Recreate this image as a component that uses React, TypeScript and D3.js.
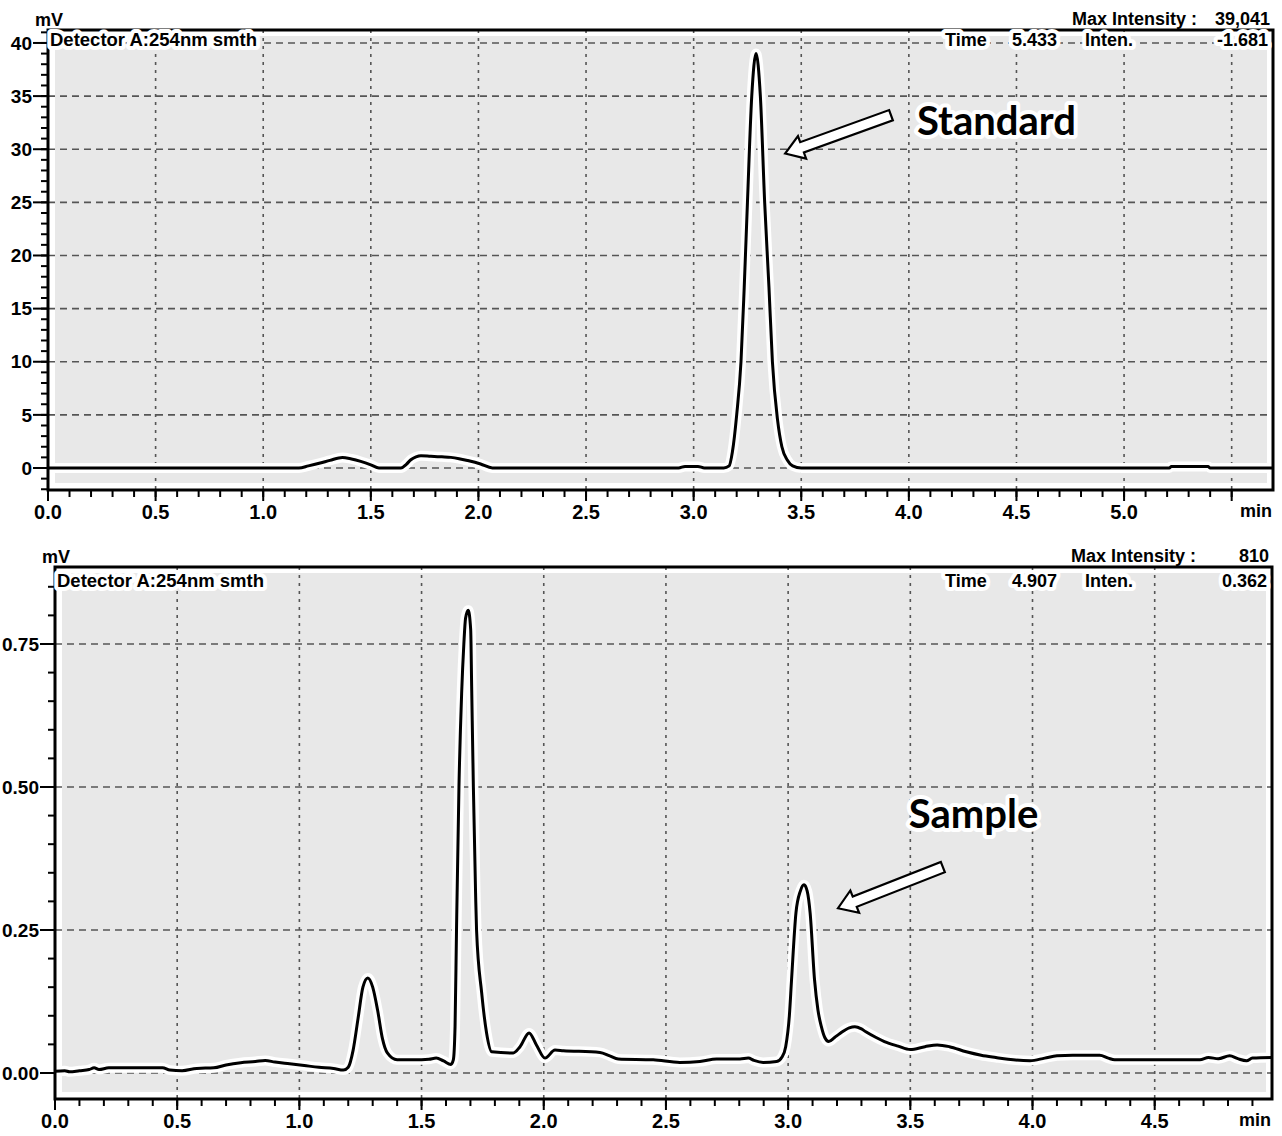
import React from 'react';
import * as d3 from 'd3';

// Standard chromatogram (mV vs min)
const standardTime = [
  0.0, 1.166, 1.21, 1.265, 1.31, 1.368, 1.41, 1.453, 1.5, 1.538, 1.64, 1.665, 1.686, 1.71, 1.733,
  1.779, 1.83, 1.872, 1.91, 1.95, 2.01, 2.065, 2.93, 2.96, 3.02, 3.05, 3.14, 3.165, 3.18, 3.2,
  3.22, 3.235, 3.25, 3.27, 3.29, 3.31, 3.33, 3.35, 3.366, 3.39, 3.41, 3.435, 3.46, 3.5, 5.21,
  5.22, 5.39, 5.4, 5.69,
];
const standardSignal = [
  0, 0, 0.2, 0.47, 0.72, 1.0, 0.85, 0.62, 0.3, 0, 0, 0.35, 0.78, 1.05, 1.16,
  1.1, 1.05, 1.0, 0.88, 0.7, 0.38, 0, 0, 0.15, 0.15, 0, 0, 0.2, 1.5, 5,
  10, 17, 25, 35, 39, 35, 25, 17, 10, 4.5, 2, 0.75, 0.2, 0, 0,
  0.15, 0.15, 0, 0,
];

// Sample chromatogram (mV vs min)
const sampleTime = [
  0.0, 0.04, 0.06, 0.1, 0.14, 0.16, 0.18, 0.22, 0.3, 0.44, 0.47, 0.52, 0.58, 0.65, 0.7,
  0.76, 0.82, 0.86, 0.9, 0.96, 1.02, 1.08, 1.14, 1.18, 1.2, 1.22, 1.24, 1.26, 1.28, 1.3,
  1.32, 1.34, 1.36, 1.4, 1.47, 1.53, 1.56, 1.59, 1.62, 1.63, 1.637, 1.643, 1.653, 1.664, 1.673,
  1.68, 1.691, 1.701, 1.705, 1.712, 1.721, 1.725, 1.746, 1.766, 1.787, 1.875, 1.903, 1.94, 1.97, 2.005,
  2.046, 2.08, 2.23, 2.27, 2.305, 2.448, 2.557, 2.639, 2.707, 2.803, 2.837, 2.86, 2.898, 2.953, 2.975,
  2.99, 3.005, 3.014, 3.032, 3.05, 3.065, 3.078, 3.09, 3.108, 3.122, 3.136, 3.15, 3.166, 3.19, 3.212,
  3.25, 3.273, 3.3, 3.318, 3.36, 3.394, 3.45, 3.5, 3.56, 3.61, 3.66, 3.729, 3.79, 3.85, 3.9,
  3.99, 4.05, 4.1, 4.165, 4.275, 4.31, 4.336, 4.5, 4.685, 4.72, 4.76, 4.807, 4.84, 4.876, 4.9,
  4.98,
];
const sampleSignal = [
  0.003, 0.004, 0.002, 0.004, 0.006, 0.009, 0.006, 0.009, 0.009, 0.009, 0.005, 0.004, 0.008, 0.009, 0.014,
  0.018, 0.02, 0.022, 0.019, 0.016, 0.013, 0.01, 0.008, 0.005, 0.01, 0.04, 0.095, 0.15, 0.166, 0.15,
  0.11, 0.06, 0.035, 0.023, 0.023, 0.024, 0.026, 0.021, 0.015, 0.023, 0.081, 0.25, 0.5, 0.664, 0.75,
  0.795, 0.809, 0.775, 0.675, 0.5, 0.315, 0.25, 0.14, 0.07, 0.037, 0.035, 0.046, 0.07, 0.049, 0.026,
  0.04, 0.039, 0.036, 0.03, 0.0245, 0.023, 0.0185, 0.02, 0.0245, 0.0245, 0.026, 0.022, 0.0185, 0.02, 0.028,
  0.046, 0.1, 0.163, 0.28, 0.318, 0.329, 0.318, 0.28, 0.163, 0.11, 0.081, 0.062, 0.055, 0.062, 0.069,
  0.079, 0.081, 0.077, 0.072, 0.062, 0.055, 0.047, 0.041, 0.046, 0.049, 0.046, 0.037, 0.031, 0.027, 0.024,
  0.0215, 0.026, 0.03, 0.031, 0.031, 0.026, 0.023, 0.023, 0.023, 0.027, 0.025, 0.03, 0.025, 0.0215, 0.026,
  0.027,
];

const topXTicks = [0, 0.5, 1.0, 1.5, 2.0, 2.5, 3.0, 3.5, 4.0, 4.5, 5.0, 5.5];
const topXLabels = ['0.0', '0.5', '1.0', '1.5', '2.0', '2.5', '3.0', '3.5', '4.0', '4.5', '5.0', ''];
const topYTicks = [0, 5, 10, 15, 20, 25, 30, 35, 40];
const topYLabels = ['0', '5', '10', '15', '20', '25', '30', '35', '40'];
const bottomXTicks = [0, 0.5, 1.0, 1.5, 2.0, 2.5, 3.0, 3.5, 4.0, 4.5];
const bottomXLabels = ['0.0', '0.5', '1.0', '1.5', '2.0', '2.5', '3.0', '3.5', '4.0', '4.5'];
const bottomYTicks = [0, 0.25, 0.5, 0.75];
const bottomYLabels = ['0.00', '0.25', '0.50', '0.75'];

const FONT = '"Liberation Sans", Arial, sans-serif';
const HALO = { stroke: '#fff', strokeWidth: 8, strokeLinejoin: 'round' as const, paintOrder: 'stroke' };

function arrowPath(tip: number[], tail: number[]) {
  const dx = tail[0] - tip[0];
  const dy = tail[1] - tip[1];
  const len = Math.hypot(dx, dy);
  const ux = dx / len, uy = dy / len;
  const nx = -uy, ny = ux;
  const headLen = 18, headHalf = 12, shaftHalf = 5.5;
  const hb = [tip[0] + ux * headLen, tip[1] + uy * headLen];
  const p = [
    tip,
    [hb[0] + nx * headHalf, hb[1] + ny * headHalf],
    [hb[0] + nx * shaftHalf, hb[1] + ny * shaftHalf],
    [tail[0] + nx * shaftHalf, tail[1] + ny * shaftHalf],
    [tail[0] - nx * shaftHalf, tail[1] - ny * shaftHalf],
    [hb[0] - nx * shaftHalf, hb[1] - ny * shaftHalf],
    [hb[0] - nx * headHalf, hb[1] - ny * headHalf],
  ];
  return 'M' + p.map((q) => q.join(',')).join('L') + 'Z';
}

type PanelProps = {
  box: { left: number; right: number; top: number; bottom: number };
  xMax: number;
  yMin: number;
  yMax: number;
  time: number[];
  signal: number[];
  xTicks: number[];
  xLabels: string[];
  xMinorEnd: number;
  yTicks: number[];
  yLabels: string[];
  yMinorStep: number;
  yMinorStart: number;
  maxInt: string;
  timeVal: string;
  intenVal: string;
  headerDy: number;
  label: string;
  labelAt: number[];
  tip: number[];
  tail: number[];
};

function Panel(p: PanelProps) {
  const { box } = p;
  const x = d3.scaleLinear().domain([0, p.xMax]).range([box.left, box.right]);
  const y = d3.scaleLinear().domain([p.yMin, p.yMax]).range([box.bottom, box.top]);
  const pts: [number, number][] = p.time.map((t, i) => [t, p.signal[i]]);
  const line = d3
    .line<[number, number]>()
    .x((d) => x(d[0]))
    .y((d) => y(d[1]))
    .curve(d3.curveMonotoneX);
  const xMinor = d3.range(0, p.xMinorEnd + 0.001, 0.1);
  const yMinor = d3.range(p.yMinorStart, p.yMax, p.yMinorStep);
  const hy = box.top + p.headerDy;

  return (
    <g fontFamily={FONT} fontWeight="bold">
      <rect x={box.left + 7} y={box.top + 6} width={box.right - box.left - 13} height={box.bottom - box.top - 13} fill="#e8e8e8" />
      {/* grid */}
      {p.xTicks.filter((t) => t > 0).map((t) => (
        <line key={'gx' + t} x1={x(t)} x2={x(t)} y1={box.top} y2={box.bottom} stroke="#555" strokeWidth={1.6} strokeDasharray="3 5" />
      ))}
      {p.yTicks.map((v) => (
        <line key={'gy' + v} x1={box.left} x2={box.right} y1={y(v)} y2={y(v)} stroke="#555" strokeWidth={1.6} strokeDasharray="7 5" />
      ))}
      {/* trace */}
      <path d={line(pts) || ''} fill="none" stroke="#fff" strokeWidth={10} strokeLinejoin="round" />
      <path d={line(pts) || ''} fill="none" stroke="#000" strokeWidth={3} strokeLinejoin="round" />
      {/* frame */}
      <rect x={box.left} y={box.top} width={box.right - box.left} height={box.bottom - box.top} fill="none" stroke="#000" strokeWidth={3} />
      {/* x ticks */}
      {xMinor.map((t) => (
        <line key={'xm' + t} x1={x(t)} x2={x(t)} y1={box.bottom} y2={box.bottom + 7} stroke="#000" strokeWidth={2} />
      ))}
      {p.xTicks.map((t) => (
        <line key={'xM' + t} x1={x(t)} x2={x(t)} y1={box.bottom} y2={box.bottom + 11} stroke="#000" strokeWidth={2} />
      ))}
      {p.xTicks.map((t, i) => (
        <text key={'xl' + t} x={x(t)} y={box.bottom + 29} fontSize={20} textAnchor="middle">
          {p.xLabels[i]}
        </text>
      ))}
      <text x={box.right - 1} y={box.bottom + 27} fontSize={18} textAnchor="end">min</text>
      {/* y ticks */}
      {yMinor.map((v) => (
        <line key={'ym' + v} x1={box.left - 7} x2={box.left} y1={y(v)} y2={y(v)} stroke="#000" strokeWidth={2} />
      ))}
      {p.yTicks.map((v) => (
        <line key={'yM' + v} x1={box.left - 15} x2={box.left} y1={y(v)} y2={y(v)} stroke="#000" strokeWidth={2} />
      ))}
      {p.yTicks.map((v, i) => (
        <text key={'yl' + v} x={box.left - 16} y={y(v)} dy="0.35em" fontSize={19} textAnchor="end">
          {p.yLabels[i]}
        </text>
      ))}
      {/* headers */}
      <text x={box.left - 13} y={box.top - 4} fontSize={18}>mV</text>
      <text x={box.right - 76} y={box.top - 5} fontSize={18} textAnchor="end">Max Intensity :</text>
      <text x={box.right - 3} y={box.top - 5} fontSize={18} textAnchor="end">{p.maxInt}</text>
      <text x={box.left + 2} y={hy} fontSize={18.5} {...HALO}>Detector A:254nm smth</text>
      <text x={945} y={hy} fontSize={18} {...HALO}>Time</text>
      <text x={1012} y={hy} fontSize={18} {...HALO}>{p.timeVal}</text>
      <text x={1085} y={hy} fontSize={18} {...HALO}>Inten.</text>
      <text x={box.right - 5} y={hy} fontSize={18} textAnchor="end" {...HALO}>{p.intenVal}</text>
      {/* annotation */}
      <path d={arrowPath([x(p.tip[0]), y(p.tip[1])], [x(p.tail[0]), y(p.tail[1])])} fill="#fff" stroke="#000" strokeWidth={2.2} strokeLinejoin="miter" />
      <text
        x={x(p.labelAt[0])}
        y={y(p.labelAt[1])}
        fontFamily="Lato, 'Open Sans', sans-serif"
        fontWeight="bold"
        fontSize={40}
        {...HALO}
      >
        {p.label}
      </text>
    </g>
  );
}

export default function App() {
  return (
    <svg width={1282} height={1136} style={{ position: 'absolute', left: 0, top: 0, background: '#fff' }}>
      <rect width={1282} height={1136} fill="#fff" />
      <Panel
        box={{ left: 48, right: 1273, top: 30, bottom: 490 }}
        xMax={5.692}
        yMin={-2.07}
        yMax={41.22}
        time={standardTime}
        signal={standardSignal}
        xTicks={topXTicks}
        xLabels={topXLabels}
        xMinorEnd={5.5}
        yTicks={topYTicks}
        yLabels={topYLabels}
        yMinorStep={1}
        yMinorStart={-2}
        maxInt="39,041"
        timeVal="5.433"
        intenVal="-1.681"
        headerDy={16}
        label="Standard"
        labelAt={[4.038, 31.36]}
        tip={[3.425, 29.6]}
        tail={[3.917, 33.2]}
      />
      <Panel
        box={{ left: 55, right: 1272, top: 567, bottom: 1099 }}
        xMax={4.98}
        yMin={-0.0455}
        yMax={0.8846}
        time={sampleTime}
        signal={sampleSignal}
        xTicks={bottomXTicks}
        xLabels={bottomXLabels}
        xMinorEnd={4.9}
        yTicks={bottomYTicks}
        yLabels={bottomYLabels}
        yMinorStep={0.05}
        yMinorStart={0}
        maxInt="810"
        timeVal="4.907"
        intenVal="0.362"
        headerDy={20}
        label="Sample"
        labelAt={[3.494, 0.428]}
        tip={[3.204, 0.288]}
        tail={[3.633, 0.36]}
      />
    </svg>
  );
}
